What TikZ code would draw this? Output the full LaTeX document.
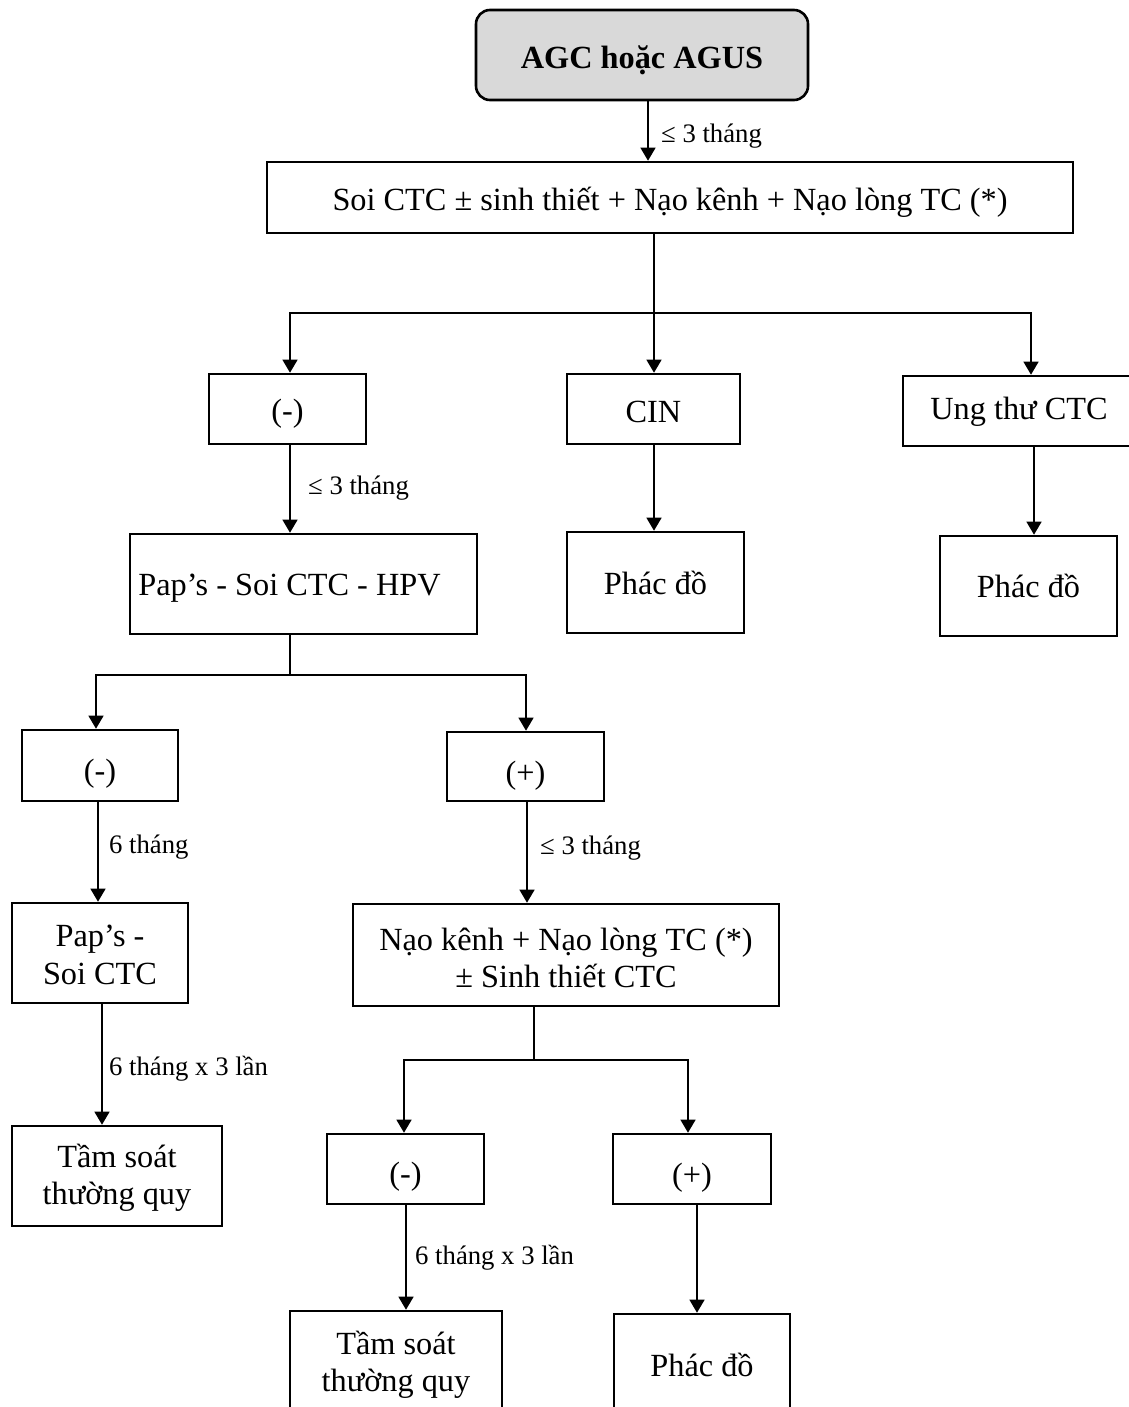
\documentclass[tikz,border=0pt]{standalone}
\usepackage{fontspec}
\setmainfont{Liberation Serif}
\usetikzlibrary{arrows.meta}
\definecolor{boxgray}{HTML}{D9D9D9}
\tikzset{
  box/.style={draw, line width=2.6pt, rectangle, inner sep=0pt},
  txt/.style={inner sep=0pt, align=center, font=\fontsize{32.3}{37.5}\selectfont},
  arr/.style={line width=1.3pt, -{Triangle[length=13pt,width=15pt]}},
  ln/.style={line width=1.3pt},
  lbl/.style={anchor=west, inner sep=0pt, font=\fontsize{26.7}{30}\selectfont}
}
\begin{document}
\begin{tikzpicture}[x=1pt,y=-1pt]
\useasboundingbox (0,0) rectangle (1128,1407);
% nodes
\node[box, fill=boxgray, rounded corners=14pt, minimum width=332pt, minimum height=90pt,
  label={[txt, name=ttop, yshift=-5pt, font=\fontsize{32.3}{37.5}\selectfont\bfseries]center:AGC hoặc AGUS}] (top) at (642,55) {};
\node[box, minimum width=806pt, minimum height=71pt,
  label={[txt, name=tb2, yshift=-5pt]center:Soi CTC ± sinh thiết + Nạo kênh + Nạo lòng TC (*)}] (b2) at (670,197.5) {};
\node[box, minimum width=157pt, minimum height=70pt,
  label={[txt, name=tneg1, yshift=-5pt]center:(-)}] (neg1) at (287.5,409) {};
\node[box, minimum width=173pt, minimum height=70pt,
  label={[txt, name=tcin, yshift=-3pt]center:CIN}] (cin) at (653.5,409) {};
\node[box, minimum width=232pt, minimum height=70pt,
  label={[txt, name=tung, yshift=-1pt]center:Ung thư CTC}] (ung) at (1019,411) {};
\node[box, minimum width=177pt, minimum height=101pt,
  label={[txt, name=tphac1]center:Phác đồ}] (phac1) at (655.5,582.5) {};
\node[box, minimum width=177pt, minimum height=100pt,
  label={[txt, name=tphac2]center:Phác đồ}] (phac2) at (1028.5,586) {};
\node[box, minimum width=347pt, minimum height=100pt,
  label={[txt, name=tpaps, yshift=-4pt, xshift=-14pt]center:Pap’s - Soi CTC - HPV}] (paps) at (303.5,584) {};
\node[box, minimum width=156pt, minimum height=71pt,
  label={[txt, name=tneg2, yshift=-8pt]center:(-)}] (neg2) at (100,765.5) {};
\node[box, minimum width=157pt, minimum height=69pt,
  label={[txt, name=tpos2, yshift=-9pt]center:(+)}] (pos2) at (525.5,766.5) {};
\node[box, minimum width=176pt, minimum height=100pt,
  label={[txt, name=tpaps2, yshift=-2pt]center:{Pap’s -\\Soi CTC}}] (paps2) at (100,953) {};
\node[box, minimum width=426pt, minimum height=102pt,
  label={[txt, name=tnao, yshift=-3pt]center:{Nạo kênh + Nạo lòng TC (*)\\± Sinh thiết CTC}}] (nao) at (566,955) {};
\node[box, minimum width=210pt, minimum height=100pt,
  label={[txt, name=ttam1, yshift=-2pt]center:{Tầm soát\\thường quy}}] (tam1) at (117,1176) {};
\node[box, minimum width=157pt, minimum height=70pt,
  label={[txt, name=tneg3, yshift=-8pt]center:(-)}] (neg3) at (405.5,1169) {};
\node[box, minimum width=158pt, minimum height=70pt,
  label={[txt, name=tpos3, yshift=-9pt]center:(+)}] (pos3) at (692,1169) {};
\node[box, minimum width=212pt, minimum height=100pt,
  label={[txt, name=ttam2, yshift=-4pt]center:{Tầm soát\\thường quy}}] (tam2) at (396,1361) {};
\node[box, minimum width=176pt, minimum height=100pt,
  label={[txt, name=tphac3, yshift=-1pt]center:Phác đồ}] (phac3) at (702,1364) {};
% helper coordinates
\coordinate (x1) at (648,0);
\coordinate (xc) at (654,0);
\coordinate (xn1) at (290,0);
\coordinate (xu) at (1031,0);
\coordinate (xu2) at (1034,0);
\coordinate (xn2) at (96,0);
\coordinate (xn2b) at (98,0);
\coordinate (xp2) at (526,0);
\coordinate (xp2b) at (527,0);
\coordinate (xpp) at (102,0);
\coordinate (xnao) at (534,0);
\coordinate (xn3) at (404,0);
\coordinate (xn3b) at (406,0);
\coordinate (xp3) at (688,0);
\coordinate (xp3b) at (697,0);
\coordinate (j1) at (654,313);
\coordinate (j2) at (290,675);
\coordinate (j3) at (534,1060);
% connectors
\draw[arr] (top.south -| x1) -- (b2.north -| x1);
\node[lbl] (l1) at (661,136) {≤ 3 tháng};
\draw[arr] (b2.south -| xc) -- (cin.north -| xc);
\draw[arr] (j1) -| (neg1.north -| xn1);
\draw[arr] (j1) -| (ung.north -| xu);
\draw[arr] (neg1.south -| xn1) -- (paps.north -| xn1);
\node[lbl] (l2) at (308,488) {≤ 3 tháng};
\draw[arr] (cin.south -| xc) -- (phac1.north -| xc);
\draw[arr] (ung.south -| xu2) -- (phac2.north -| xu2);
\draw[ln] (paps.south -| xn1) -- (j2);
\draw[arr] (j2) -| (neg2.north -| xn2);
\draw[arr] (j2) -| (pos2.north -| xp2);
\draw[arr] (neg2.south -| xn2b) -- (paps2.north -| xn2b);
\node[lbl] (l3) at (109,847) {6 tháng};
\draw[arr] (pos2.south -| xp2b) -- (nao.north -| xp2b);
\node[lbl] (l4) at (540,848) {≤ 3 tháng};
\draw[arr] (paps2.south -| xpp) -- (tam1.north -| xpp);
\node[lbl] (l5) at (109,1069) {6 tháng x 3 lần};
\draw[ln] (nao.south -| xnao) -- (j3);
\draw[arr] (j3) -| (neg3.north -| xn3);
\draw[arr] (j3) -| (pos3.north -| xp3);
\draw[arr] (neg3.south -| xn3b) -- (tam2.north -| xn3b);
\node[lbl] (l6) at (415,1258) {6 tháng x 3 lần};
\draw[arr] (pos3.south -| xp3b) -- (phac3.north -| xp3b);
\end{tikzpicture}
\end{document}
